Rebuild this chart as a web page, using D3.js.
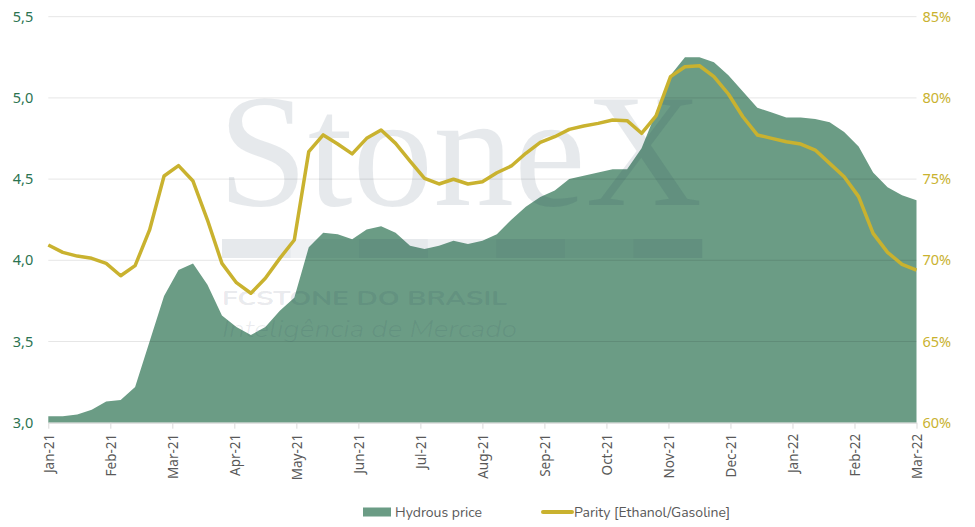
<!DOCTYPE html>
<html>
<head>
<meta charset="utf-8">
<script src="https://cdn.jsdelivr.net/npm/d3@7"></script>
<style>
  html, body { margin: 0; padding: 0; background: #fff; }
  #chart { width: 975px; height: 527px; }
  text { font-family: "Nunito", "Noto Sans", Lato, sans-serif; }
</style>
</head>
<body>
<div id="chart"></div>
<script>
(function() {
// weekly points, Jan-21 .. Mar-22
const hydrousPrice = [
  3.04, 3.04, 3.05, 3.08, 3.13, 3.14, 3.22, 3.50, 3.78, 3.94,
  3.98, 3.85, 3.66, 3.59, 3.54, 3.59, 3.69, 3.77, 4.08, 4.17,
  4.16, 4.13, 4.19, 4.21, 4.17, 4.09, 4.07, 4.09, 4.12, 4.10,
  4.12, 4.16, 4.25, 4.33, 4.39, 4.43, 4.50, 4.52, 4.54, 4.56,
  4.56, 4.69, 4.91, 5.14, 5.25, 5.25, 5.22, 5.14, 5.04, 4.94,
  4.91, 4.88, 4.88, 4.87, 4.85, 4.79, 4.70, 4.54, 4.45, 4.40,
  4.37
];
const parity = [
  70.94, 70.49, 70.26, 70.12, 69.81, 69.05, 69.67, 71.87, 75.19, 75.83,
  74.88, 72.48, 69.81, 68.62, 67.97, 68.89, 70.12, 71.25, 76.69, 77.72,
  77.16, 76.55, 77.51, 78.02, 77.20, 76.11, 75.05, 74.70, 74.99, 74.70,
  74.84, 75.39, 75.81, 76.59, 77.26, 77.61, 78.06, 78.27, 78.43, 78.64,
  78.60, 77.82, 78.89, 81.31, 81.92, 81.98, 81.31, 80.24, 78.84, 77.72,
  77.51, 77.30, 77.16, 76.79, 75.97, 75.15, 73.92, 71.66, 70.49, 69.75,
  69.40
];
const monthLabels = ["Jan-21", "Feb-21", "Mar-21", "Apr-21", "May-21", "Jun-21", "Jul-21",
  "Aug-21", "Sep-21", "Oct-21", "Nov-21", "Dec-21", "Jan-22", "Feb-22", "Mar-22"];
const leftTicks = [3.0, 3.5, 4.0, 4.5, 5.0, 5.5];
const rightTicks = [60, 65, 70, 75, 80, 85];
const legendItems = ["Hydrous price", "Parity [Ethanol/Gasoline]"];

const W = 975, H = 527;
const PAD = { top: 16.7, right: 58.5, bottom: 104.3, left: 48.3 };
const innerW = W - PAD.left - PAD.right;
const innerH = H - PAD.top - PAD.bottom;

const AREA = '#6b9c85';
const GOLD = '#c9b22f';
const WM = '#1f3350';

const svg = d3.select('#chart').append('svg')
  .attr('width', W).attr('height', H);

const g = svg.append('g')
  .attr('transform', `translate(${PAD.left},${PAD.top})`);

const n = hydrousPrice.length;
const x = d3.scaleLinear().domain([0, n - 1]).range([0, innerW]);
const yL = d3.scaleLinear().domain([3.0, 5.5]).range([innerH, 0]);
const yR = d3.scaleLinear().domain([60, 85]).range([innerH, 0]);

// month ticks spread evenly over the weekly index
const monthPos = monthLabels.map((m, i) => i * (n - 1) / (monthLabels.length - 1));

// hydrous price area
g.append('path')
  .datum(hydrousPrice)
  .attr('fill', AREA)
  .attr('d', d3.area()
    .x((d, i) => x(i))
    .y0(yL(3.0))
    .y1(d => yL(d)));

// gridlines (drawn over the area, semi transparent)
g.append('g')
  .selectAll('line')
  .data(leftTicks.slice(1))
  .enter().append('line')
  .attr('x1', 0).attr('x2', innerW)
  .attr('y1', d => yL(d)).attr('y2', d => yL(d))
  .attr('stroke', 'rgba(0,0,0,0.1)')
  .attr('stroke-width', 1);

// watermark
const wm = g.append('g')
  .attr('fill', WM)
  .attr('transform', `translate(${222 - PAD.left},${0 - PAD.top})`);
wm.append('text')
  .attr('x', -4).attr('y', 205)
  .attr('fill-opacity', 0.11)
  .style('font-family', '"Liberation Serif", "DejaVu Serif", serif')
  .attr('font-size', 160)
  .attr('textLength', 484)
  .attr('lengthAdjust', 'spacingAndGlyphs')
  .text('StoneX');
[0, 1, 2, 3, 4, 5, 6].forEach(k => {
  wm.append('rect')
    .attr('x', k * 68.6).attr('y', 239)
    .attr('width', 68.6).attr('height', 19)
    .attr('fill-opacity', k % 2 === 0 ? 0.11 : 0.07);
});
wm.append('text')
  .attr('x', 0).attr('y', 305)
  .attr('fill-opacity', 0.11)
  .attr('font-size', 20)
  .attr('font-weight', 'bold')
  .attr('textLength', 285)
  .attr('lengthAdjust', 'spacingAndGlyphs')
  .text('FCSTONE DO BRASIL');
wm.append('text')
  .attr('x', 0).attr('y', 337)
  .attr('fill-opacity', 0.09)
  .attr('font-size', 24)
  .attr('font-style', 'italic')
  .attr('font-weight', 300)
  .attr('textLength', 295)
  .attr('lengthAdjust', 'spacingAndGlyphs')
  .text('Inteligência de Mercado');

// parity line
g.append('path')
  .datum(parity)
  .attr('fill', 'none')
  .attr('stroke', GOLD)
  .attr('stroke-width', 3.5)
  .attr('stroke-linejoin', 'round')
  .attr('d', d3.line()
    .x((d, i) => x(i))
    .y(d => yR(d)));

// bottom axis
const xAxis = g.append('g')
  .attr('transform', `translate(0,${innerH})`)
  .call(d3.axisBottom(x)
    .tickValues(monthPos)
    .tickFormat((d, i) => monthLabels[i])
    .tickSize(6)
    .tickSizeOuter(0));
xAxis.select('.domain').attr('stroke', '#d9d9d9').attr('stroke-width', 1.2);
xAxis.selectAll('.tick line').attr('stroke', '#d9d9d9');
xAxis.selectAll('.tick text')
  .attr('transform', 'rotate(-90)')
  .attr('text-anchor', 'end')
  .attr('x', -11).attr('y', 0).attr('dy', '0.35em')
  .attr('fill', '#595959')
  .attr('font-size', 13.5)
  .style('font-family', '"Noto Sans", Lato, sans-serif');

// left axis
const fmtComma = d => d3.format('.1f')(d).replace('.', ',');
const left = g.append('g')
  .call(d3.axisLeft(yL).tickValues(leftTicks).tickFormat(fmtComma).tickSize(0).tickPadding(15));
left.select('.domain').remove();
left.selectAll('text')
  .attr('fill', '#2b7350')
  .attr('font-size', 14.5)
  .style('font-family', '"Noto Sans", Lato, sans-serif');

// right axis
const right = g.append('g')
  .attr('transform', `translate(${innerW},0)`)
  .call(d3.axisRight(yR).tickValues(rightTicks).tickFormat(d => d + '%').tickSize(0).tickPadding(6));
right.select('.domain').remove();
right.selectAll('text')
  .attr('fill', GOLD)
  .attr('font-size', 14.5)
  .style('font-family', '"Noto Sans", Lato, sans-serif');

// legend
const lg = svg.append('g').attr('transform', 'translate(363,512)')
  .style('font-family', '"Noto Sans", Lato, sans-serif');
lg.append('rect')
  .attr('x', 0).attr('y', -4.5).attr('width', 28).attr('height', 9)
  .attr('fill', AREA);
lg.append('text')
  .attr('x', 32).attr('y', 0).attr('dy', '0.35em')
  .attr('font-size', 14).attr('fill', '#595959')
  .text(legendItems[0]);
lg.append('line')
  .attr('x1', 180).attr('x2', 209).attr('y1', 0).attr('y2', 0)
  .attr('stroke', GOLD).attr('stroke-width', 4).attr('stroke-linecap', 'round');
lg.append('text')
  .attr('x', 211).attr('y', 0).attr('dy', '0.35em')
  .attr('font-size', 14).attr('fill', '#595959')
  .text(legendItems[1]);
})();
</script>
</body>
</html>
